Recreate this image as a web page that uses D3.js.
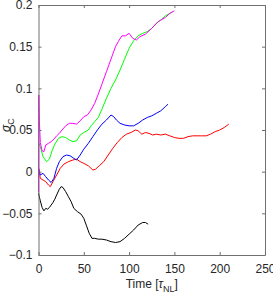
<!DOCTYPE html>
<html>
<head>
<meta charset="utf-8">
<script src="https://cdn.jsdelivr.net/npm/d3@7"></script>
<style>
  body { margin: 0; background: #fff; }
  svg { display: block; }
  text { font-family: "Liberation Sans Narrow", "Liberation Sans", Arial, sans-serif; fill: #262626; }
</style>
</head>
<body>
<svg></svg>
<script>
let w = 273
let h = 301
let margin = {left: 38.5, right: 8, top: 5, bottom: 46}

// time values [tau_NL] and sigma_C for each run
let tMagenta = [0, 0.3, 1, 2, 4, 6, 8, 11, 14, 17, 20, 23, 26, 30, 34, 38, 42, 46, 50, 54, 58, 62, 66, 70, 75, 80, 85, 88, 92, 96, 100, 104, 108, 112, 118, 125, 132, 140, 145, 150]
let vMagenta = [-0.025, 0.092, 0.06, 0.035, 0.025, 0.024, 0.032, 0.034, 0.036, 0.039, 0.043, 0.046, 0.05, 0.055, 0.058, 0.058, 0.057, 0.061, 0.066, 0.068, 0.074, 0.082, 0.093, 0.105, 0.12, 0.135, 0.15, 0.156, 0.163, 0.163, 0.166, 0.16, 0.158, 0.162, 0.165, 0.172, 0.18, 0.185, 0.19, 0.193]

let tGreen = [0, 2, 5, 9, 12, 15, 18, 22, 26, 30, 34, 38, 42, 46, 50, 55, 58, 62, 66, 70, 75, 80, 85, 90, 95, 100, 105, 110, 115, 120, 125, 130, 135, 140, 145, 148]
let vGreen = [0.035, 0.03, 0.018, 0.012, 0.015, 0.025, 0.033, 0.04, 0.042, 0.041, 0.038, 0.036, 0.037, 0.044, 0.047, 0.05, 0.055, 0.06, 0.065, 0.075, 0.088, 0.1, 0.11, 0.122, 0.135, 0.148, 0.157, 0.163, 0.166, 0.168, 0.172, 0.178, 0.182, 0.187, 0.19, 0.192]

let tBlue = [0, 2, 5, 8, 11, 14, 17, 20, 23, 27, 31, 35, 39, 42, 46, 50, 55, 60, 65, 70, 75, 80, 83, 86, 90, 95, 100, 105, 110, 115, 120, 125, 130, 135, 140, 143]
let vBlue = [0.004, -0.004, -0.002, -0.006, -0.01, -0.013, -0.008, 0.004, 0.012, 0.018, 0.02, 0.019, 0.016, 0.014, 0.02, 0.027, 0.034, 0.042, 0.05, 0.057, 0.062, 0.068, 0.066, 0.062, 0.058, 0.056, 0.055, 0.055, 0.058, 0.062, 0.065, 0.067, 0.07, 0.073, 0.078, 0.081]

let tRed = [0, 2, 5, 8, 11, 13, 16, 20, 24, 28, 33, 38, 42, 46, 50, 55, 60, 63, 67, 72, 77, 82, 87, 92, 97, 102, 107, 110, 114, 118, 122, 126, 130, 135, 140, 145, 150, 155, 160, 165, 170, 175, 180, 185, 190, 195, 200, 205, 210]
let vRed = [0.005, -0.008, -0.01, -0.012, -0.016, -0.018, -0.012, -0.004, 0.004, 0.009, 0.012, 0.014, 0.015, 0.012, 0.01, 0.007, 0.002, 0.003, 0.007, 0.012, 0.02, 0.028, 0.035, 0.041, 0.045, 0.047, 0.05, 0.049, 0.045, 0.047, 0.046, 0.044, 0.045, 0.044, 0.045, 0.043, 0.041, 0.04, 0.04, 0.042, 0.043, 0.043, 0.043, 0.043, 0.045, 0.048, 0.05, 0.053, 0.057]

let tBlack = [0, 2, 4, 6, 8, 10, 12, 14, 16, 18, 20, 23, 25, 27, 30, 33, 36, 39, 43, 47, 50, 53, 56, 59, 62, 66, 70, 75, 80, 85, 90, 95, 100, 105, 110, 115, 118, 121]
let vBlack = [-0.026, -0.035, -0.043, -0.047, -0.044, -0.045, -0.043, -0.04, -0.037, -0.033, -0.028, -0.021, -0.018, -0.019, -0.024, -0.03, -0.036, -0.044, -0.048, -0.051, -0.056, -0.065, -0.074, -0.08, -0.08, -0.081, -0.081, -0.082, -0.084, -0.085, -0.084, -0.08, -0.075, -0.07, -0.064, -0.061, -0.061, -0.063]

let xTicks = [0, 50, 100, 150, 200, 250]
let yTicks = [-0.1, -0.05, 0, 0.05, 0.1, 0.15, 0.2]

let series = [
    {t: tRed, v: vRed, color: '#ff0000'},
    {t: tBlue, v: vBlue, color: '#0000ff'},
    {t: tBlack, v: vBlack, color: '#000000'},
    {t: tGreen, v: vGreen, color: '#00ff00'},
    {t: tMagenta, v: vMagenta, color: '#ff00ff'}
]

let svg = d3.select('svg').attr('width', w).attr('height', h)

let xScale = d3.scaleLinear().domain([0, 250]).range([margin.left, w - margin.right])
let yScale = d3.scaleLinear().domain([-0.1, 0.2]).range([h - margin.bottom, margin.top])

let line = d3.line()
    .x(d => xScale(d[0]))
    .y(d => yScale(d[1]))

series.forEach(s => {
    let pts = s.t.map((t, i) => [t, s.v[i]])
    svg.append('path')
        .attr('d', line(pts))
        .attr('fill', 'none')
        .attr('stroke', s.color)
        .attr('stroke-width', 1)
        .attr('stroke-linejoin', 'round')
})

// box with inward ticks
let fmt = d => d === 0 ? '0' : d3.format('')(+d.toFixed(2))
let x0 = xScale.range()[0], x1 = xScale.range()[1]
let y0 = yScale.range()[0], y1 = yScale.range()[1]

let xAxis = d3.axisBottom(xScale).tickValues(xTicks).tickSizeInner(-3).tickSizeOuter(0).tickPadding(9).tickFormat(fmt)
let yAxis = d3.axisLeft(yScale).tickValues(yTicks).tickSizeInner(-3).tickSizeOuter(0).tickPadding(6).tickFormat(fmt)
let xTop = d3.axisTop(xScale).tickValues(xTicks).tickSizeInner(-3).tickSizeOuter(0).tickFormat('')
let yRight = d3.axisRight(yScale).tickValues(yTicks).tickSizeInner(-3).tickSizeOuter(0).tickFormat('')

let gx = svg.append('g').attr('transform', 'translate(0,' + y0 + ')').call(xAxis)
let gy = svg.append('g').attr('transform', 'translate(' + x0 + ',0)').call(yAxis)
let gt = svg.append('g').attr('transform', 'translate(0,' + y1 + ')').call(xTop)
let gr = svg.append('g').attr('transform', 'translate(' + x1 + ',0)').call(yRight)

;[gx, gy, gt, gr].forEach(g => {
    g.selectAll('.domain').attr('stroke', '#707070').attr('stroke-width', 1)
    g.selectAll('.tick line').attr('stroke', '#707070')
    g.selectAll('text').attr('font-size', 12).attr('fill', '#262626')
        .style('font-family', '"Liberation Sans Narrow", "Liberation Sans", Arial, sans-serif')
})

// axis labels
let xl = svg.append('text')
    .attr('x', (x0 + x1) / 2)
    .attr('y', 288)
    .attr('text-anchor', 'middle')
    .attr('font-size', 12)
xl.append('tspan').text('Time [')
xl.append('tspan').text('τ').style('font-style', 'italic')
xl.append('tspan').text('NL').attr('dy', 4).attr('font-size', 9)
xl.append('tspan').text(']').attr('dy', -4)

let yl = svg.append('text')
    .attr('transform', 'translate(10,' + 125 + ') rotate(-90)')
    .attr('text-anchor', 'middle')
    .attr('font-size', 12)
yl.append('tspan').text('σ').style('font-style', 'italic')
yl.append('tspan').text('C').attr('dy', 4).attr('font-size', 9)
</script>
</body>
</html>
